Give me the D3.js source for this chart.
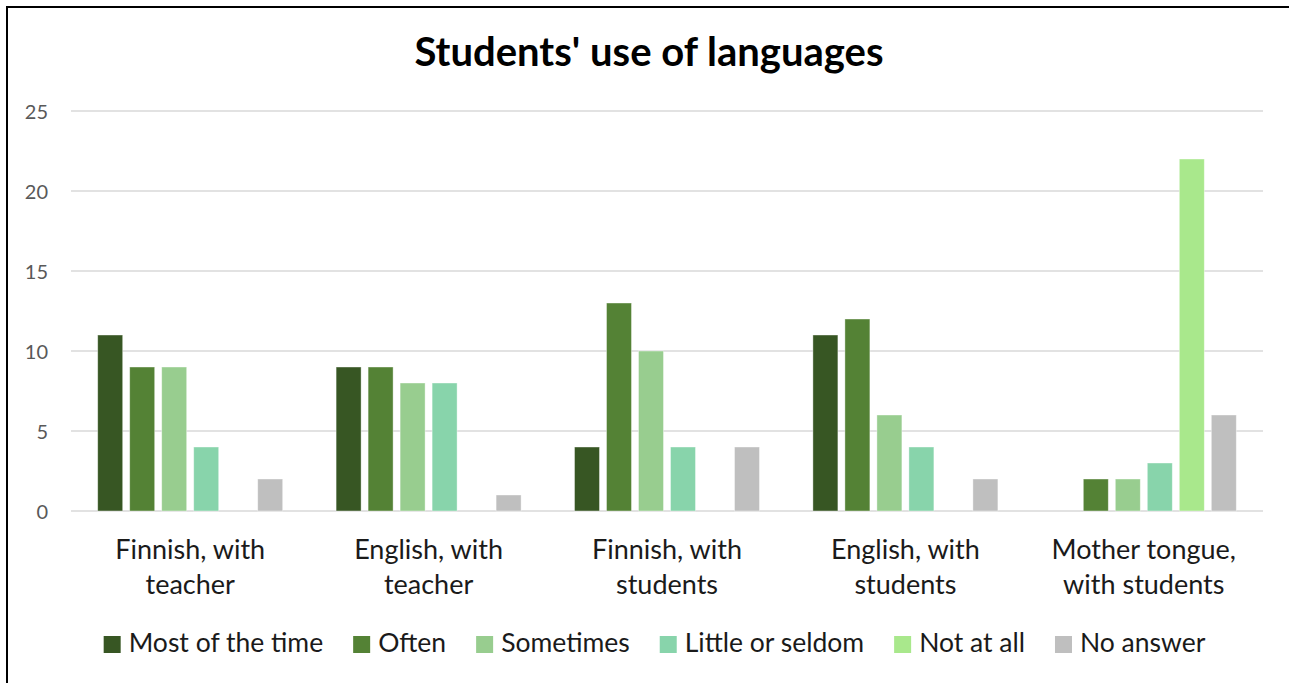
<!DOCTYPE html>
<html>
<head>
<meta charset="utf-8">
<script src="https://cdn.jsdelivr.net/npm/d3@7/dist/d3.min.js"></script>
<style>
  html, body { margin: 0; padding: 0; background: #fff; }
  svg { display: block; }
  text { font-family: Lato, "Open Sans", sans-serif; }
</style>
</head>
<body>
<svg id="chart" width="1289" height="683"></svg>
<script>
// Survey categories (x axis, two-line labels)
const categories = [
  ["Finnish, with", "teacher"],
  ["English, with", "teacher"],
  ["Finnish, with", "students"],
  ["English, with", "students"],
  ["Mother tongue,", "with students"]
];
const seriesNames = ["Most of the time", "Often", "Sometimes", "Little or seldom", "Not at all", "No answer"];
const seriesColors = ["#375623", "#548235", "#98CD8F", "#88D4AB", "#A9E88C", "#BFBFBF"];

// Responses per category, one array per answer option
const mostOfTheTime = [11, 9, 4, 11, 0];
const often         = [9, 9, 13, 12, 2];
const sometimes     = [9, 8, 10, 6, 2];
const littleSeldom  = [4, 8, 4, 4, 3];
const notAtAll      = [0, 0, 0, 0, 22];
const noAnswer      = [2, 1, 4, 2, 6];
const yTicks = [0, 5, 10, 15, 20, 25];

const seriesValues = [mostOfTheTime, often, sometimes, littleSeldom, notAtAll, noAnswer];

const svg = d3.select("#chart");
const W = 1289, H = 683;
const plot = { left: 71, right: 1263, top: 111, bottom: 511 };

// outer frame (left and top edges visible)
svg.append("rect")
  .attr("x", 7).attr("y", 7)
  .attr("width", W + 20).attr("height", H + 20)
  .attr("fill", "#fff").attr("stroke", "#000").attr("stroke-width", 2);

const catKeys = categories.map((c, i) => i);
const x0 = d3.scaleBand().domain(catKeys).range([plot.left, plot.right]).padding(0);
const groupW = x0.bandwidth() * 0.776;
const x1 = d3.scaleBand().domain(d3.range(seriesNames.length))
  .range([(x0.bandwidth() - groupW) / 2, (x0.bandwidth() + groupW) / 2])
  .paddingInner(7 / 32).paddingOuter(0);
const y = d3.scaleLinear().domain([0, 25]).range([plot.bottom, plot.top]);

// gridlines
svg.append("g").selectAll("line").data(yTicks).join("line")
  .attr("x1", plot.left).attr("x2", plot.right)
  .attr("y1", d => y(d)).attr("y2", d => y(d))
  .attr("stroke", "#D9D9D9").attr("stroke-width", 1.6);

// y axis labels
const yAxis = d3.axisLeft(y).tickValues(yTicks).tickSize(0).tickPadding(0).tickFormat(d3.format("d"));
const yg = svg.append("g").attr("transform", `translate(48,0)`).call(yAxis);
yg.select(".domain").remove();
yg.selectAll("text").attr("fill", "#595959").attr("font-size", 20).attr("dy", "0.35em")
  .style("font-family", "Lato, 'Open Sans', sans-serif");

// bars
const rows = [];
seriesValues.forEach((vals, s) => vals.forEach((v, c) => { if (v > 0) rows.push({ s, c, v }); }));
svg.append("g").selectAll("rect").data(rows).join("rect")
  .attr("x", d => x0(d.c) + x1(d.s))
  .attr("y", d => y(d.v))
  .attr("width", x1.bandwidth())
  .attr("height", d => y(0) - y(d.v))
  .attr("fill", d => seriesColors[d.s])
  .attr("stroke", "rgba(255,255,255,0.5)").attr("stroke-width", 0.8);

// x axis labels
const xl = svg.append("g");
categories.forEach((lines, i) => {
  const cx = x0(i) + x0.bandwidth() / 2;
  const t = xl.append("text")
    .attr("text-anchor", "middle")
    .attr("font-size", 27).attr("fill", "#1a1a1a");
  lines.forEach((ln, k) => t.append("tspan").attr("x", cx).attr("y", 559 + k * 35).text(ln));
});

// title
svg.append("text")
  .attr("x", 649).attr("y", 66)
  .attr("text-anchor", "middle")
  .attr("font-size", 40).attr("font-weight", "bold").attr("fill", "#000")
  .text("Students' use of languages");

// legend
const lg = svg.append("g");
const items = seriesNames.map((name, i) => {
  const g = lg.append("g");
  g.append("rect").attr("x", 0).attr("y", -16).attr("width", 17).attr("height", 17).attr("fill", seriesColors[i]);
  const t = g.append("text").attr("x", 25).attr("y", 0)
    .attr("font-size", 26.5).attr("fill", "#1a1a1a").text(name);
  return { g, w: 25 + t.node().getComputedTextLength() };
});
const gap = 30;
const total = d3.sum(items, d => d.w) + gap * (items.length - 1);
let lx = 654.5 - total / 2;
items.forEach(it => { it.g.attr("transform", `translate(${lx},652)`); lx += it.w + gap; });
</script>
</body>
</html>
